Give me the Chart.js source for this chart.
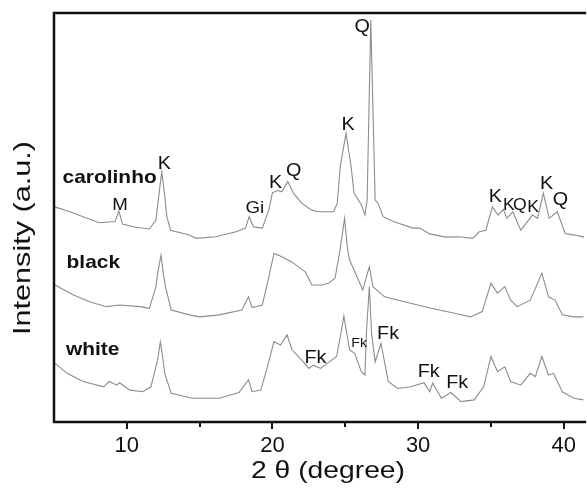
<!DOCTYPE html>
<html>
<head>
<meta charset="utf-8">
<script src="https://cdn.jsdelivr.net/npm/chart.js@4/dist/chart.umd.min.js"></script>
<style>
  html, body { margin: 0; padding: 0; background: #fff; overflow: hidden; }
  #wrap { width: 587px; height: 499px; position: relative; }
</style>
</head>
<body>
<div id="wrap"><canvas id="xrdChart"></canvas></div>
<script>
// 2 theta (degree) and intensity (a.u.)
const carolinhoAngle = [5.05, 6.1, 7.0, 8.1, 9.2, 9.45, 9.7, 10.6, 11.55, 12.0, 12.24, 12.4, 12.58, 12.75, 13.0, 14.3, 14.75, 16.1, 17.5, 18.15, 18.4, 18.7, 19.3, 19.75, 20.0, 20.4, 20.65, 21.05, 21.45, 22.0, 22.7, 23.15, 24.2, 24.45, 24.65, 25.05, 25.4, 25.6, 26.1, 26.35, 26.5, 26.75, 27.05, 27.25, 27.6, 28.3, 29.65, 30.1, 30.8, 31.9, 32.8, 33.75, 34.2, 34.65, 35.1, 35.5, 35.85, 36.1, 36.5, 37.05, 37.85, 38.2, 38.6, 39.0, 39.55, 40.1, 40.75, 41.4];
const carolinhoInt = [52.6, 51.4, 50.2, 48.7, 49.0, 51.6, 48.4, 47.6, 47.2, 49.4, 56.7, 61.2, 55.9, 50.2, 46.9, 45.7, 44.9, 45.3, 46.5, 47.4, 50.2, 47.7, 47.4, 51.8, 56.1, 56.6, 56.3, 58.8, 55.9, 53.5, 51.8, 51.4, 51.4, 53.5, 62.4, 70.6, 62.4, 56.0, 53.1, 50.6, 54.3, 98.3, 54.3, 53.5, 50.2, 49.0, 47.4, 47.4, 46.0, 45.2, 45.3, 44.9, 46.5, 46.9, 52.6, 50.6, 52.0, 49.8, 51.4, 46.9, 50.6, 49.8, 55.9, 49.8, 51.4, 46.1, 45.7, 45.2];

const blackAngle = [5.07, 6.3, 7.45, 8.6, 9.5, 10.9, 11.55, 12.0, 12.12, 12.35, 12.5, 12.65, 13.05, 14.3, 15.0, 16.35, 17.9, 18.35, 18.6, 19.3, 19.75, 20.1, 20.4, 21.3, 22.25, 22.7, 23.4, 23.85, 24.3, 24.64, 24.95, 25.16, 25.3, 25.9, 26.2, 26.65, 26.9, 27.7, 29.05, 30.9, 32.5, 33.6, 34.4, 35.0, 35.45, 35.95, 36.35, 36.8, 37.7, 38.5, 38.95, 39.4, 39.9, 40.7, 41.35];
const blackInt = [33.5, 31.1, 29.4, 28.2, 28.6, 28.2, 27.8, 33.1, 36.4, 40.8, 36.4, 33.1, 27.4, 26.2, 25.7, 26.2, 27.4, 30.6, 28.0, 28.6, 35.5, 41.2, 40.8, 39.2, 36.7, 33.5, 33.5, 33.9, 35.2, 42.1, 49.8, 42.1, 39.6, 34.7, 32.3, 38.0, 33.1, 30.6, 29.4, 27.8, 26.6, 25.7, 27.0, 33.9, 31.5, 33.1, 29.8, 28.2, 29.8, 36.4, 30.6, 29.8, 26.2, 25.7, 25.7];

const whiteAngle = [5.07, 5.9, 7.0, 8.4, 8.8, 9.3, 9.5, 10.2, 11.1, 11.65, 12.0, 12.15, 12.3, 12.46, 12.6, 13.05, 14.5, 16.35, 17.7, 18.35, 18.6, 19.2, 19.65, 20.1, 20.55, 21.0, 21.35, 22.0, 22.5, 22.8, 23.3, 23.6, 24.4, 24.7, 24.9, 25.1, 25.3, 25.65, 26.1, 26.35, 26.45, 26.65, 26.8, 27.05, 27.45, 27.95, 28.6, 29.5, 30.4, 30.8, 31.0, 31.6, 32.25, 32.95, 33.85, 34.5, 35.0, 35.45, 35.95, 36.35, 37.05, 37.7, 38.05, 38.5, 38.95, 39.3, 39.9, 40.7, 41.35];
const whiteInt = [14.4, 11.9, 9.9, 8.6, 9.9, 9.0, 9.6, 7.8, 7.4, 8.6, 13.5, 16.0, 19.6, 16.0, 11.9, 7.0, 5.8, 5.8, 7.2, 10.3, 7.4, 7.8, 13.5, 19.6, 18.8, 21.3, 17.6, 15.2, 13.1, 13.9, 13.1, 13.9, 16.0, 21.7, 25.9, 21.7, 17.6, 16.8, 12.3, 11.5, 21.8, 33.1, 21.8, 14.7, 19.2, 9.9, 8.2, 8.6, 9.6, 7.4, 9.5, 5.8, 7.2, 5.0, 5.4, 8.6, 16.0, 12.3, 13.5, 9.9, 9.0, 11.9, 11.1, 16.0, 11.5, 11.9, 7.4, 5.8, 5.4];

// sample names and phase labels (placed in data units)
const sampleLabels = [
  { text: "carolinho", x: 8.82, y: 59.8 },
  { text: "black", x: 7.70, y: 39.0 },
  { text: "white", x: 7.66, y: 17.7 }
];
const phaseLabels = [
  { text: "M", x: 9.54, y: 53.1, size: 17 },
  { text: "K", x: 12.58, y: 63.1, size: 18 },
  { text: "Gi", x: 18.79, y: 52.3, size: 17 },
  { text: "K", x: 20.22, y: 58.4, size: 18 },
  { text: "Q", x: 21.45, y: 61.4, size: 18 },
  { text: "K", x: 25.2, y: 72.6, size: 18 },
  { text: "Q", x: 26.16, y: 96.6, size: 18 },
  { text: "K", x: 35.31, y: 55.0, size: 18 },
  { text: "K", x: 36.23, y: 52.8, size: 16 },
  { text: "Q", x: 36.98, y: 52.8, size: 16 },
  { text: "K", x: 37.9, y: 52.3, size: 16 },
  { text: "K", x: 38.82, y: 58.2, size: 18 },
  { text: "Q", x: 39.78, y: 54.3, size: 18 },
  { text: "Fk", x: 22.95, y: 15.6, size: 18 },
  { text: "Fk", x: 25.96, y: 19.1, size: 13 },
  { text: "Fk", x: 27.94, y: 21.5, size: 18 },
  { text: "Fk", x: 30.73, y: 12.2, size: 18 },
  { text: "Fk", x: 32.68, y: 9.5, size: 18 }
];

const FONT = "'Liberation Sans', Arial, sans-serif";
const WIDEN = 1.1; // the figure's lettering is a little wider than Arial
const toPoints = (xs, ys) => xs.map((x, i) => ({ x: x, y: ys[i] }));

const lineStyle = {
  borderColor: "#8c8c8c",
  borderWidth: 1.1,
  pointRadius: 0,
  tension: 0,
  fill: false
};

const drawWide = (ctx, text, cx, cy, factor) => {
  ctx.save();
  ctx.translate(cx, cy);
  ctx.scale(factor, 1);
  ctx.fillText(text, 0, 0);
  ctx.restore();
};

const framePlugin = {
  id: "frameAndText",
  afterDraw(chart) {
    const ctx = chart.ctx;
    const area = chart.chartArea;
    const xs = chart.scales.x;
    const ys = chart.scales.y;
    ctx.save();

    // axes frame
    ctx.strokeStyle = "#111";
    ctx.lineWidth = 2.5;
    ctx.beginPath();
    ctx.moveTo(area.right + 2, area.top);
    ctx.lineTo(area.left, area.top);
    ctx.lineTo(area.left, area.bottom);
    ctx.lineTo(area.right + 2, area.bottom);
    ctx.stroke();

    // tick marks, long at labelled values
    ctx.lineWidth = 2;
    xs.ticks.forEach((t) => {
      if (t.value <= xs.min) return;
      const px = Math.round(xs.getPixelForValue(t.value));
      const len = t.value % 10 === 0 ? 7 : 5;
      ctx.beginPath();
      ctx.moveTo(px, area.bottom);
      ctx.lineTo(px, area.bottom + len);
      ctx.stroke();
    });

    ctx.fillStyle = "#111";
    ctx.textAlign = "center";
    ctx.textBaseline = "middle";

    ctx.font = "bold 19px " + FONT;
    sampleLabels.forEach((l) => {
      drawWide(ctx, l.text, xs.getPixelForValue(l.x), ys.getPixelForValue(l.y), WIDEN);
    });

    phaseLabels.forEach((l) => {
      ctx.font = l.size + "px " + FONT;
      drawWide(ctx, l.text, xs.getPixelForValue(l.x), ys.getPixelForValue(l.y), WIDEN);
    });

    // axis titles
    ctx.font = "24px " + FONT;
    drawWide(ctx, "2 \u03b8 (degree)", 328, 471, 154 / ctx.measureText("2 \u03b8 (degree)").width);

    ctx.translate(23, 238);
    ctx.rotate(-Math.PI / 2);
    drawWide(ctx, "Intensity (a.u.)", 0, 0, 194 / ctx.measureText("Intensity (a.u.)").width);
    ctx.restore();
  }
};

new Chart(document.getElementById("xrdChart"), {
  type: "line",
  data: {
    datasets: [
      { label: "carolinho", data: toPoints(carolinhoAngle, carolinhoInt), ...lineStyle },
      { label: "black", data: toPoints(blackAngle, blackInt), ...lineStyle },
      { label: "white", data: toPoints(whiteAngle, whiteInt), ...lineStyle }
    ]
  },
  options: {
    responsive: true,
    maintainAspectRatio: false,
    animation: false,
    layout: { padding: { top: 13, right: 0, left: 0, bottom: 0 } },
    plugins: {
      legend: { display: false },
      tooltip: { enabled: false }
    },
    scales: {
      x: {
        type: "linear",
        min: 5,
        max: 41.4,
        afterFit: (s) => { s.height = 77; },
        grid: { display: false, drawTicks: false, tickLength: 0 },
        border: { display: false },
        ticks: {
          stepSize: 5,
          includeBounds: false,
          autoSkip: false,
          maxRotation: 0,
          padding: 11,
          color: "#111",
          font: { family: FONT, size: 22 },
          callback: (v) => (v % 10 === 0 ? v : "")
        }
      },
      y: {
        min: 0,
        max: 100,
        afterFit: (s) => { s.width = 54; },
        grid: { display: false },
        border: { display: false },
        ticks: { display: false }
      }
    }
  },
  plugins: [framePlugin]
});
</script>
</body>
</html>
